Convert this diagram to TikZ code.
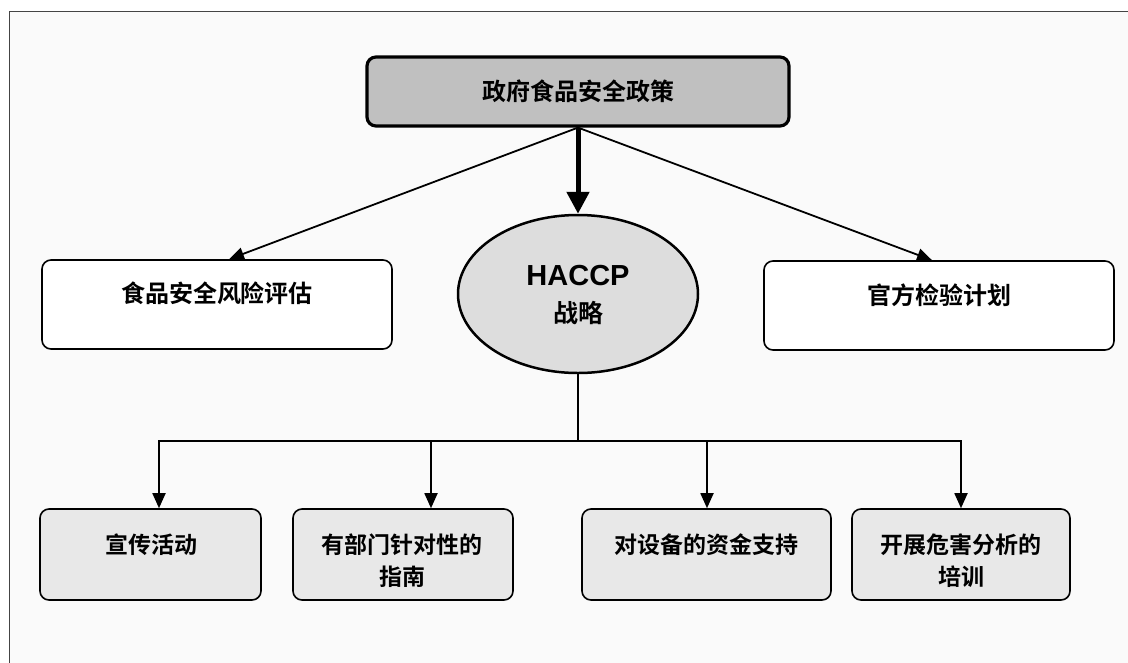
\documentclass[tikz,border=0pt]{standalone}
\usepackage{fontspec}
\setmainfont{Liberation Sans}
\newfontfamily\cjk{Noto Sans CJK SC}[BoldFont={* Bold}]
\usetikzlibrary{arrows.meta,shapes.geometric,calc}
\definecolor{bg}{HTML}{FAFAFA}
\definecolor{frame}{HTML}{444444}
\definecolor{topfill}{HTML}{C0C0C0}
\definecolor{ellfill}{HTML}{DDDDDD}
\definecolor{botfill}{HTML}{E8E8E8}
\tikzset{
  topbox/.style={draw=black, fill=topfill, line width=3.2pt, rounded corners=9pt, inner sep=0pt},
  sidebox/.style={draw=black, fill=white, line width=1.6pt, rounded corners=9pt, inner sep=0pt},
  botbox/.style={draw=black, fill=botfill, line width=1.6pt, rounded corners=9pt, inner sep=0pt},
  hacell/.style={ellipse, draw=black, fill=ellfill, line width=2.5pt, inner sep=0pt},
  cn/.style={font=\cjk\bfseries\fontsize{24}{32}\selectfont, inner sep=0pt, align=center},
  cnb/.style={font=\cjk\bfseries\fontsize{23}{32}\selectfont, inner sep=0pt, align=center},
  thin/.style={line width=1.8pt, -{Triangle[length=15pt,width=13pt]}},
  thick/.style={line width=5pt, -{Triangle[length=22pt,width=22pt]}},
  busline/.style={line width=1.8pt}
}
\begin{document}
\begin{tikzpicture}[x=1pt,y=-1pt]
\useasboundingbox (0,0) rectangle (1128,662);
\fill[white] (0,0) rectangle (1128,662);
\begin{scope}
\clip (0,0) rectangle (1128,662);
\draw[draw=frame, fill=bg, line width=1.5pt] (9.5,11.5) rectangle (1140,680);
\end{scope}

% nodes
\node[topbox, minimum width=422pt, minimum height=69pt] (gov) at (578,91.5) {};
\node[cn] (govt) at (578,91) {政府食品安全政策};

\node[hacell, minimum width=240pt, minimum height=158pt] (hac) at (578,294) {};
\node[font=\bfseries\fontsize{29}{32}\selectfont, inner sep=0pt] (hact1) at (578,276) {HACCP};
\node[font=\cjk\bfseries\fontsize{25}{30}\selectfont, inner sep=0pt] (hact2) at (578,313) {战略};

\node[sidebox, minimum width=350pt, minimum height=89pt] (risk) at (217,304.5) {};
\node[cn] (riskt) at (217,293) {食品安全风险评估};

\node[sidebox, minimum width=350pt, minimum height=89pt] (insp) at (939,305.5) {};
\node[cn] (inspt) at (939,295) {官方检验计划};

\node[botbox, minimum width=221pt, minimum height=91pt] (b1) at (150.5,554.5) {};
\node[cnb] (b1t) at (151,545) {宣传活动};
\node[botbox, minimum width=220pt, minimum height=91pt] (b2) at (403,554.5) {};
\node[cnb] (b2t) at (402,561) {有部门针对性的\\指南};
\node[botbox, minimum width=249pt, minimum height=91pt] (b3) at (706.5,554.5) {};
\node[cnb] (b3t) at (706,545) {对设备的资金支持};
\node[botbox, minimum width=218pt, minimum height=91pt] (b4) at (961,554.5) {};
\node[cnb] (b4t) at (961,561) {开展危害分析的\\培训};

% connectors
\draw[thick] (gov.south) -- (hac.north);
\draw[thin] (gov.south) -- ($(risk.north)+(12,0)$);
\draw[thin] (gov.south) -- ($(insp.north)+(-7,0)$);

\coordinate (bus) at ($(hac.south)+(0,67)$);
\draw[busline] (hac.south) -- (bus);
\draw[thin] (bus) -| ($(b1.north)+(8.5,0)$);
\draw[thin] (bus) -| ($(b2.north)+(28,0)$);
\draw[thin] (bus) -| ($(b3.north)+(0.5,0)$);
\draw[thin] (bus) -| (b4.north);
\end{tikzpicture}
\end{document}
